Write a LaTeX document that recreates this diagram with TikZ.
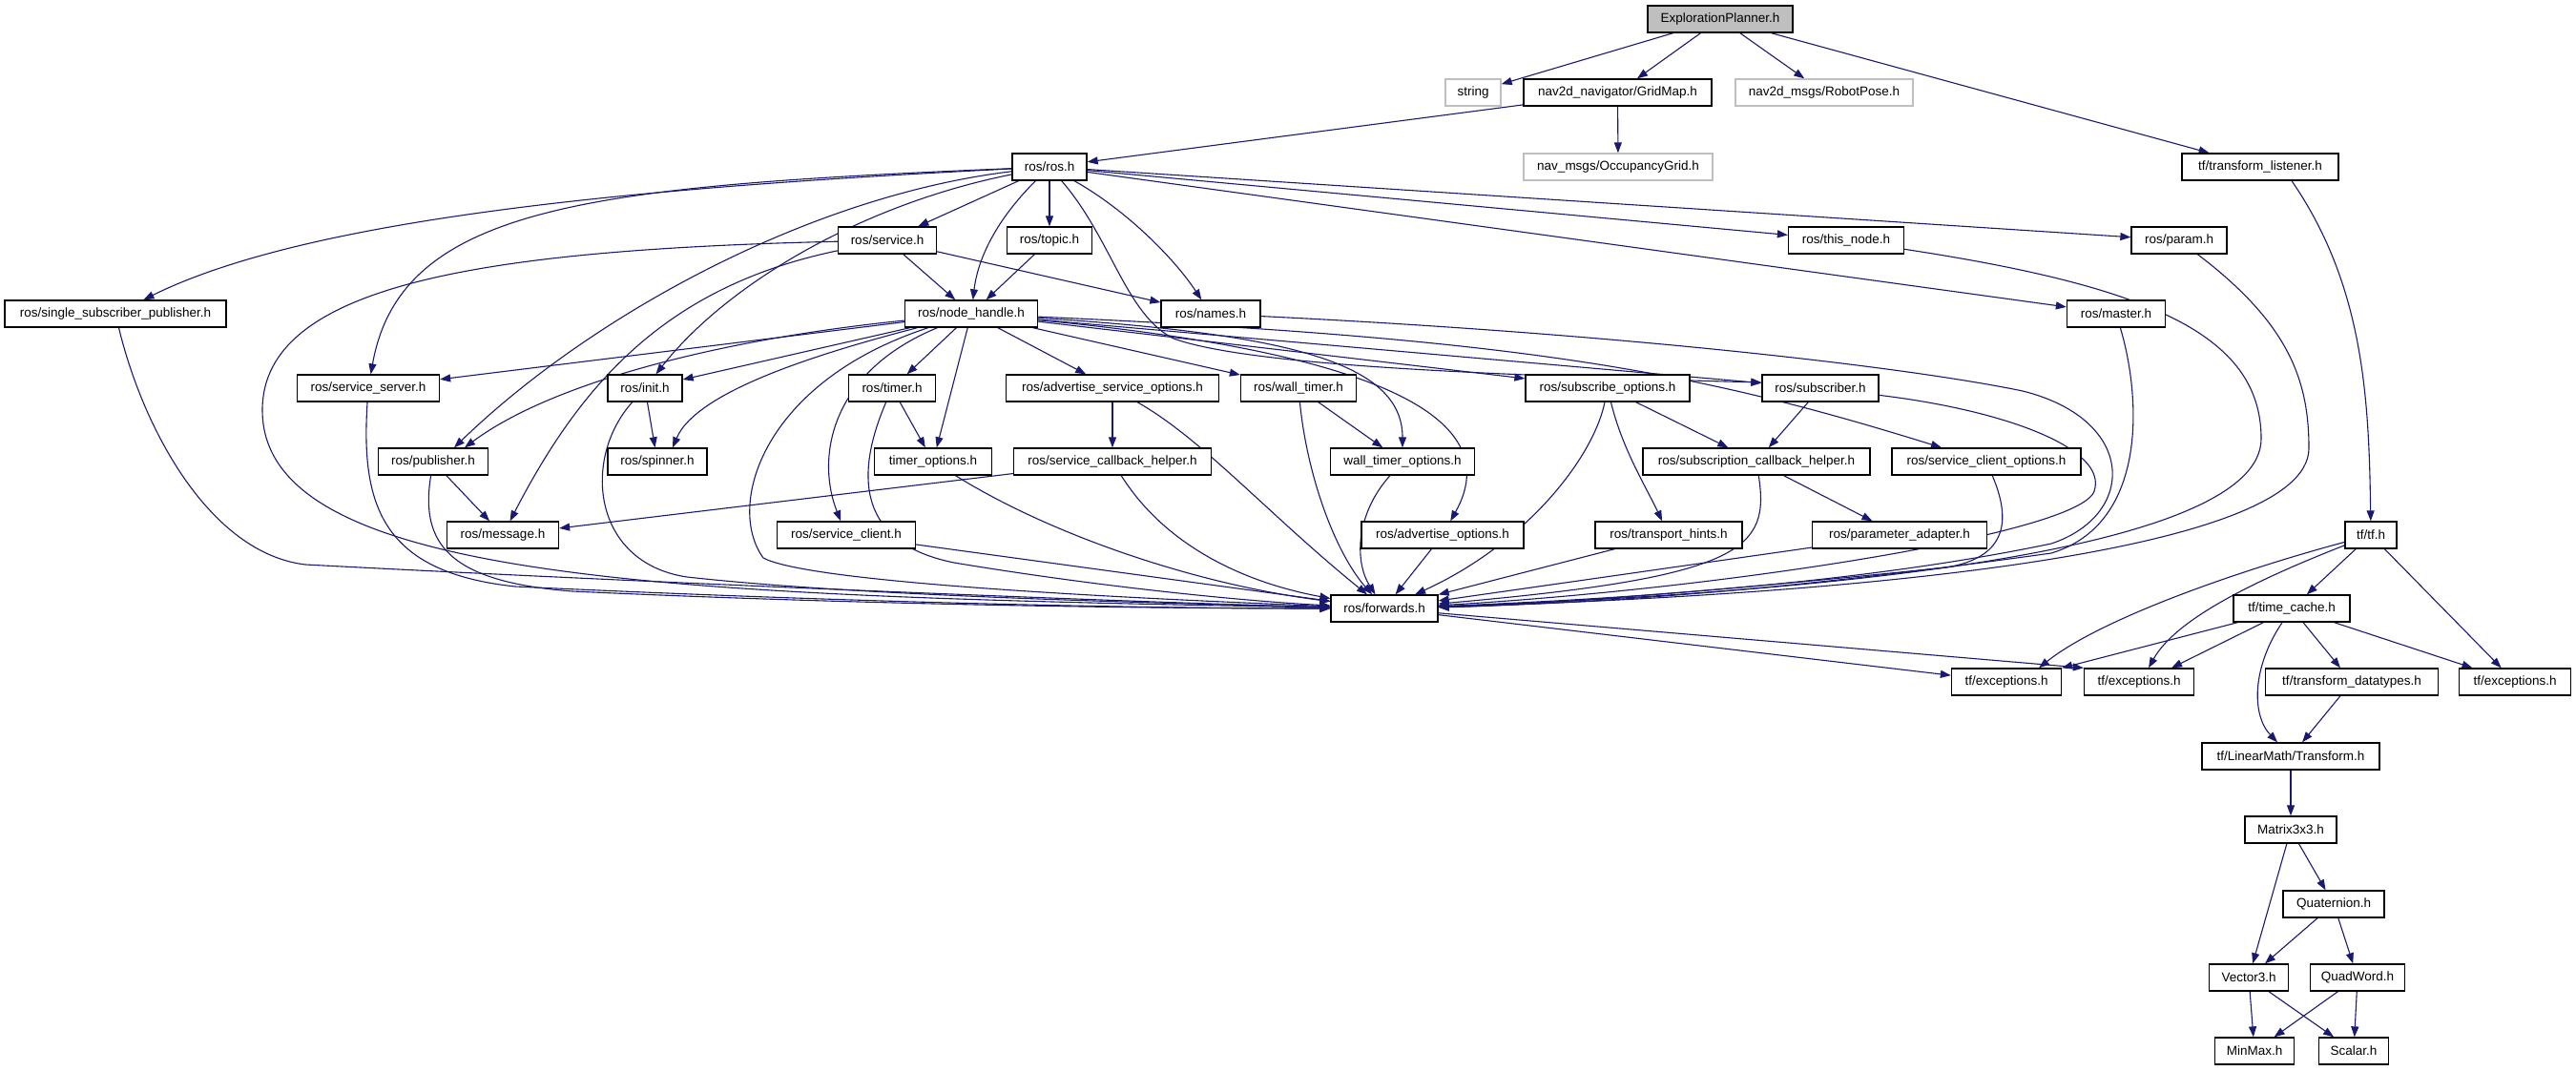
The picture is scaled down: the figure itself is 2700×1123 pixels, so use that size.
\documentclass[tikz,border=0pt]{standalone}
\usepackage{fontspec}
\setmainfont{Liberation Sans}
\usetikzlibrary{arrows.meta}
\definecolor{mblue}{HTML}{191970}
\definecolor{gr75}{HTML}{BFBFBF}
\pgfdeclarelayer{bg}
\pgfsetlayers{bg,main}
\begin{document}
\begin{tikzpicture}[x=1pt,y=-1pt,
  nb/.style={draw=black, line width=1.3pt, fill=white, minimum height=28pt, inner sep=0pt,
    font=\fontsize{13.5pt}{16pt}\selectfont},
  gb/.style={nb, draw=gr75},
  rb/.style={nb, fill=gr75},
  ed/.style={draw=mblue, line width=1.1pt, -{Triangle[length=11pt,width=8pt]}}]
\begin{pgfonlayer}{bg}
\fill[white] (0,0) rectangle (2700,1123);
\end{pgfonlayer}
\useasboundingbox (0,0) rectangle (2700,1123);
% row 0-1
\node[rb, minimum width=152pt] (ep) at (1803,20) {ExplorationPlanner.h};
\node[gb, minimum width=58pt] (str) at (1544,97) {string};
\node[nb, minimum width=197pt] (gm) at (1695.5,97) {nav2d\_navigator/GridMap.h};
\node[gb, minimum width=186pt] (rp) at (1912,97) {nav2d\_msgs/RobotPose.h};
% row 2
\node[nb, minimum width=78pt] (ros) at (1100,175) {ros/ros.h};
\node[gb, minimum width=198pt] (og) at (1696,175) {nav\_msgs/OccupancyGrid.h};
\node[nb, minimum width=164pt] (tl) at (2369,175) {tf/transform\_listener.h};
% row 3
\node[nb, minimum width=103pt] (srv) at (930,252) {ros/service.h};
\node[nb, minimum width=89pt] (topic) at (1100,252) {ros/topic.h};
\node[nb, minimum width=121pt] (thisn) at (1935,252) {ros/this\_node.h};
\node[nb, minimum width=100pt] (param) at (2284,252) {ros/param.h};
% row 4
\node[nb, minimum width=232pt] (ssp) at (121,329) {ros/single\_subscriber\_publisher.h};
\node[nb, minimum width=139pt] (nh) at (1018,329) {ros/node\_handle.h};
\node[nb, minimum width=104pt] (names) at (1269,329) {ros/names.h};
\node[nb, minimum width=103pt] (master) at (2218,329) {ros/master.h};
% row 5
\node[nb, minimum width=149pt] (ssrv) at (386,407) {ros/service\_server.h};
\node[nb, minimum width=78pt] (init) at (676,407) {ros/init.h};
\node[nb, minimum width=91pt] (timer) at (935,407) {ros/timer.h};
\node[nb, minimum width=223pt] (aso) at (1166,407) {ros/advertise\_service\_options.h};
\node[nb, minimum width=121pt] (wt) at (1361,407) {ros/wall\_timer.h};
\node[nb, minimum width=172pt] (so) at (1685,407) {ros/subscribe\_options.h};
\node[nb, minimum width=122pt] (sub) at (1908,407) {ros/subscriber.h};
% row 6
\node[nb, minimum width=115pt] (pub) at (454,484) {ros/publisher.h};
\node[nb, minimum width=104pt] (spin) at (689,484) {ros/spinner.h};
\node[nb, minimum width=123pt] (tmo) at (978,484) {timer\_options.h};
\node[nb, minimum width=207pt] (scb) at (1166,484) {ros/service\_callback\_helper.h};
\node[nb, minimum width=151pt] (wto) at (1470,484) {wall\_timer\_options.h};
\node[nb, minimum width=238pt] (subcb) at (1841,484) {ros/subscription\_callback\_helper.h};
\node[nb, minimum width=198pt] (sco) at (2082,484) {ros/service\_client\_options.h};
% row 7
\node[nb, minimum width=117pt] (msg) at (527,561) {ros/message.h};
\node[nb, minimum width=145pt] (sc) at (887,561) {ros/service\_client.h};
\node[nb, minimum width=170pt] (ao) at (1512,561) {ros/advertise\_options.h};
\node[nb, minimum width=154pt] (th) at (1749,561) {ros/transport\_hints.h};
\node[nb, minimum width=183pt] (pa) at (1991,561) {ros/parameter\_adapter.h};
\node[nb, minimum width=54pt] (tf) at (2485,561) {tf/tf.h};
% row 8
\node[nb, minimum width=112pt] (fwd) at (1451,638) {ros/forwards.h};
\node[nb, minimum width=122pt] (tc) at (2402,638) {tf/time\_cache.h};
% row 9
\node[nb, minimum width=115pt] (ex1) at (2103,715) {tf/exceptions.h};
\node[nb, minimum width=115pt] (ex2) at (2242,715) {tf/exceptions.h};
\node[nb, minimum width=181pt] (td) at (2465,715) {tf/transform\_datatypes.h};
\node[nb, minimum width=117pt] (ex3) at (2636,715) {tf/exceptions.h};
% lower
\node[nb, minimum width=186pt] (tr) at (2401,793) {tf/LinearMath/Transform.h};
\node[nb, minimum width=96pt] (m33) at (2401,870) {Matrix3x3.h};
\node[nb, minimum width=106pt] (quat) at (2446,948) {Quaternion.h};
\node[nb, minimum width=83pt] (v3) at (2357,1025) {Vector3.h};
\node[nb, minimum width=99pt] (qw) at (2471,1025) {QuadWord.h};
\node[nb, minimum width=83pt] (mm) at (2363,1102) {MinMax.h};
\node[nb, minimum width=73pt] (scal) at (2467,1102) {Scalar.h};

% ---- edges ----
\begin{pgfonlayer}{bg}
\draw[ed] (ep) -- (str);
\draw[ed] (ep) -- (gm);
\draw[ed] (ep) -- (rp);
\draw[ed] (ep) -- (tl);
\draw[ed] (gm) -- (ros);
\draw[ed] (gm) -- (og);
\draw[ed] ([xshift=33pt]tl.south) .. controls (2478,300) and (2483,420) .. (tf);
% ros.h
\draw[ed] (ros) -- (srv);
\draw[ed] (ros) -- (topic);
\draw[ed] (ros) .. controls (1045,230) and (1025,270) .. (nh);
\draw[ed] (ros) .. controls (1180,220) and (1230,270) .. (names);
\draw[ed] (ros) .. controls (1165,250) and (1180,330) .. (1230,355) .. controls (1300,380) and (1500,392) .. ([yshift=6pt]sub.west);
\draw[ed] (ros) -- (thisn);
\draw[ed] (ros) -- (param);
\draw[ed] (ros) -- (master);
\draw[ed] (ros) .. controls (700,195) and (330,225) .. (ssp);
\draw[ed] (ros) .. controls (620,195) and (420,215) .. (ssrv);
\draw[ed] (ros) .. controls (850,205) and (620,330) .. ([xshift=22pt]pub.north);
\draw[ed] (ros) .. controls (900,215) and (760,300) .. (init);
% service.h
\draw[ed] (srv) -- (nh);
\draw[ed] (srv) -- (names);
\draw[ed] (srv) .. controls (700,300) and (610,400) .. (msg);
\draw[ed] (srv) .. controls (500,262) and (275,300) .. (275,430) .. controls (275,610) and (700,625) .. (fwd);
\draw[ed] (topic) -- (nh);
% node_handle.h
\draw[ed] (nh) -- (ssrv);
\draw[ed] (nh) .. controls (760,355) and (580,400) .. ([xshift=33pt]pub.north);
\draw[ed] (nh) -- (init);
\draw[ed] (nh) .. controls (860,370) and (730,410) .. ([xshift=16pt]spin.north);
\draw[ed] (nh) -- (timer);
\draw[ed] (nh) -- (tmo);
\draw[ed] (nh) -- (aso);
\draw[ed] (nh) -- (wt);
\draw[ed] (nh) .. controls (870,390) and (855,480) .. (sc);
\draw[ed] (nh) .. controls (800,400) and (760,530) .. (800,585) .. controls (850,612) and (1200,628) .. (fwd);
\draw[ed] (nh) .. controls (1350,350) and (1470,380) .. (wto);
\draw[ed] (nh) -- (so);
\draw[ed] (nh) -- (sub);
\draw[ed] (nh) .. controls (1600,355) and (1780,390) .. (sco);
\draw[ed] (nh) .. controls (1450,370) and (1580,440) .. (ao);
% names, subscriber, master, this_node, param
\draw[ed] (names) .. controls (1700,350) and (2000,385) .. (2120,410) .. controls (2240,440) and (2240,540) .. (2150,570) .. controls (1950,612) and (1700,628) .. (fwd);
\draw[ed] (sub) .. controls (2100,430) and (2210,470) .. (2195,515) .. controls (2180,560) and (1800,618) .. (fwd);
\draw[ed] (sub) -- (subcb);
\draw[ed] (master) .. controls (2245,420) and (2250,550) .. (2150,580) .. controls (1900,615) and (1700,632) .. (fwd);
\draw[ed] (thisn) .. controls (2250,300) and (2370,350) .. (2370,460) .. controls (2370,580) and (1900,622) .. (fwd);
\draw[ed] (param) .. controls (2400,340) and (2420,400) .. (2420,470) .. controls (2420,585) and (1900,625) .. (fwd);
% subscribe options
\draw[ed] (so) -- (subcb);
\draw[ed] (so) .. controls (1700,470) and (1725,510) .. (th);
\draw[ed] (so) .. controls (1670,480) and (1600,570) .. (fwd);
\draw[ed] (subcb) -- (pa);
\draw[ed] (subcb) .. controls (1855,575) and (1830,605) .. (fwd);
\draw[ed] (th) -- (fwd);
\draw[ed] (pa) -- (fwd);
\draw[ed] (ao) -- (fwd);
\draw[ed] (sco) .. controls (2110,550) and (2100,585) .. (2040,595) .. controls (1800,620) and (1600,635) .. (fwd);
% wall timer
\draw[ed] (wt) -- (wto);
\draw[ed] (wt) .. controls (1370,500) and (1400,580) .. (fwd);
\draw[ed] (wto) .. controls (1420,540) and (1420,590) .. (fwd);
% advertise service options
\draw[ed] (aso) -- (scb);
\draw[ed] (aso) .. controls (1260,460) and (1330,540) .. (fwd);
\draw[ed] (scb) -- (msg);
\draw[ed] (scb) .. controls (1220,570) and (1300,610) .. (fwd);
% timer
\draw[ed] (timer) -- (tmo);
\draw[ed] (timer) .. controls (895,500) and (900,570) .. (1000,590) .. controls (1150,615) and (1300,630) .. (fwd);
\draw[ed] (tmo) .. controls (1100,560) and (1250,612) .. (fwd);
\draw[ed] (sc) -- (fwd);
% init, publisher, service server, ssp
\draw[ed] (init) -- (spin);
\draw[ed] (init) .. controls (610,480) and (620,590) .. (720,605) .. controls (900,625) and (1200,632) .. (fwd);
\draw[ed] (pub) -- (msg);
\draw[ed] (pub) .. controls (440,570) and (470,610) .. (600,620) .. controls (900,634) and (1200,638) .. (fwd);
\draw[ed] (ssrv) .. controls (378,530) and (400,600) .. (540,615) .. controls (900,632) and (1200,638) .. (fwd);
\draw[ed] (ssp) .. controls (150,450) and (220,580) .. (320,592) .. controls (700,612) and (1200,632) .. (fwd);
% forwards
\draw[ed] (fwd) -- (ex1);
\draw[ed] (fwd) -- (ex2.north west);
% tf
\draw[ed] (tf) -- (tc);
\draw[ed] (tf) -- (ex3);
\draw[ed] (tf) .. controls (2340,600) and (2200,650) .. ([xshift=34pt]ex1.north);
\draw[ed] (tf) .. controls (2360,610) and (2280,650) .. ([xshift=10pt]ex2.north);
\draw[ed] (tc) -- (ex1.north east);
\draw[ed] (tc) -- ([xshift=34pt]ex2.north);
\draw[ed] (tc) -- (td);
\draw[ed] (tc) -- (ex3);
\draw[ed] (tc) .. controls (2360,700) and (2360,750) .. (tr);
\draw[ed] (td) -- (tr);
\draw[ed] (tr) -- (m33);
\draw[ed] (m33) -- (quat);
\draw[ed] (m33) -- (v3);
\draw[ed] (quat) -- (v3);
\draw[ed] (quat) -- (qw);
\draw[ed] (v3) -- (mm);
\draw[ed] (v3) -- (scal);
\draw[ed] (qw) -- (mm);
\draw[ed] (qw) -- (scal);
\end{pgfonlayer}
\end{tikzpicture}
\end{document}
